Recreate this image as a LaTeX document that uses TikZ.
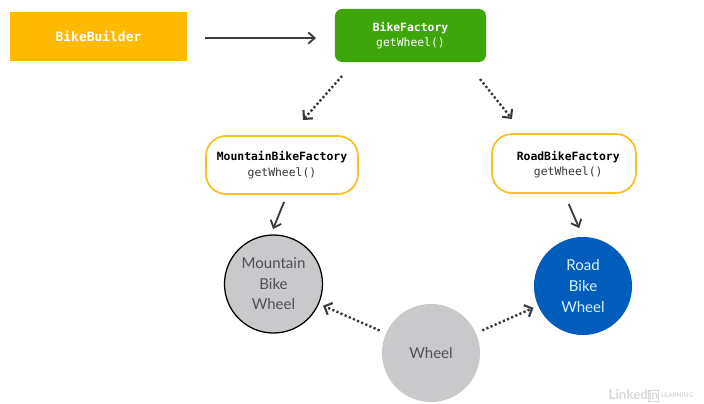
\documentclass[tikz,border=0pt]{standalone}
\usepackage{fontspec}
\setmainfont{Lato}
\setmonofont{DejaVu Sans Mono}
\usetikzlibrary{arrows.meta,positioning}
\definecolor{builderorange}{HTML}{FDBA00}
\definecolor{factorygreen}{HTML}{3EA50B}
\definecolor{ringyellow}{HTML}{F8C020}
\definecolor{wheelgrey}{HTML}{C9C8CA}
\definecolor{wheelblue}{HTML}{005DBB}
\definecolor{arrowgrey}{HTML}{3A3A3F}
\definecolor{textgrey}{HTML}{505052}
\definecolor{logogrey}{HTML}{D8D8D8}
\tikzset{
	codebox/.style={align=center, inner sep=0pt, outer sep=0pt, font=\ttfamily\fontsize{8.1}{10.9}\selectfont},
	ringbox/.style={codebox, draw=ringyellow, line width=1.2pt, fill=white, rounded corners=0.5cm, text=black},
	wheelnode/.style={circle, align=center, inner sep=0pt, outer sep=0pt, minimum size=2.45cm, font=\fontsize{10.7}{14.6}\selectfont},
	solidarrow/.style={draw=arrowgrey, line width=1.3pt, -{Straight Barb[length=4.5pt,width=8pt,line width=1.3pt]}},
	dottedarrow/.style={solidarrow, line width=1.7pt, dash pattern=on 1.6pt off 1.6pt, -{Straight Barb[length=4.5pt,width=9pt,line width=1.5pt,line cap=butt]}},
	logotext/.style={inner sep=0pt, outer sep=0pt, text=logogrey}
}
\begin{document}
\begin{tikzpicture}[x=0.025cm, y=-0.025cm]
	\useasboundingbox[fill=white] (0,0) rectangle (704,403);
	% factories and builder
	\node[codebox, fill=builderorange, text=white, minimum width=4.425cm, minimum height=1.225cm, font=\ttfamily\bfseries\fontsize{9.2}{11}\selectfont] (bikebuilder) at (98.5,36.5) {BikeBuilder};
	\node[codebox, fill=factorygreen, text=white, rounded corners=0.18cm, minimum width=3.775cm, minimum height=1.325cm] (bikefactory) at (410.5,35.5) {\textbf{BikeFactory}\\getWheel()};
	\node[ringbox, minimum width=3.8cm, minimum height=1.45cm] (mountainfactory) at (282,165) {\textbf{MountainBikeFactory}\\\textcolor{textgrey!70!black}{getWheel()}};
	\node[ringbox, minimum width=3.6cm, minimum height=1.475cm] (roadfactory) at (564,163.5) {\rule{0pt}{8pt}\hspace*{6pt}\textbf{RoadBikeFactory}\\\hspace*{6pt}\textcolor{textgrey!70!black}{getWheel()}};
	% wheels
	\node[wheelnode, draw=black, line width=0.9pt, fill=wheelgrey, text=textgrey] (mountainwheel) at (273.5,284) {Mountain\\Bike\\Wheel};
	\node[wheelnode, fill=wheelblue, text=white!85!cyan] (roadwheel) at (583,286) {Road\\Bike\\Wheel};
	\node[wheelnode, fill=wheelgrey, text=textgrey] (wheel) at (431,353) {Wheel};
	% connectors
	\draw[solidarrow, shorten <=12.8pt, shorten >=13.5pt] ([yshift=-1.1pt]bikebuilder.east) -- ([yshift=-1.8pt]bikefactory.west);
	\draw[dottedarrow, shorten <=13.3pt, shorten >=15.2pt] ([shift={(-56,0)}]bikefactory.south) -- ([shift={(6.8,0)}]mountainfactory.north);
	\draw[dottedarrow, shorten <=15.5pt, shorten >=13.7pt] ([shift={(55.9,0)}]bikefactory.south) -- ([shift={(-40,0)}]roadfactory.north);
	\draw[solidarrow, shorten <=6.1pt, shorten >=4.6pt] ([shift={(5.3,0)}]mountainfactory.south) -- ([shift={(-2.9,0)}]mountainwheel.north);
	\draw[solidarrow, shorten <=8.5pt, shorten >=6.9pt] (roadfactory.south) -- (roadwheel.north);
	\draw[dottedarrow, shorten <=5pt, shorten >=3.6pt] (wheel) -- (mountainwheel);
	\draw[dottedarrow, shorten <=5pt, shorten >=3.6pt] (wheel) -- (roadwheel);
	% watermark
	\node[logotext, font=\bfseries\fontsize{9.5}{10}\selectfont, anchor=base east] (logolinked) at (648,399) {Linked};
	\node[logotext, draw=logogrey, line width=0.7pt, font=\bfseries\fontsize{8.5}{10}\selectfont, minimum width=0.25cm, minimum height=0.275cm, anchor=west] (logoin) at (648.5,395.5) {in};
	\node[logotext, font=\bfseries\fontsize{4.6}{5}\selectfont, anchor=west] (logolearning) at (661,395.5) {LEARNING};
\end{tikzpicture}
\end{document}
